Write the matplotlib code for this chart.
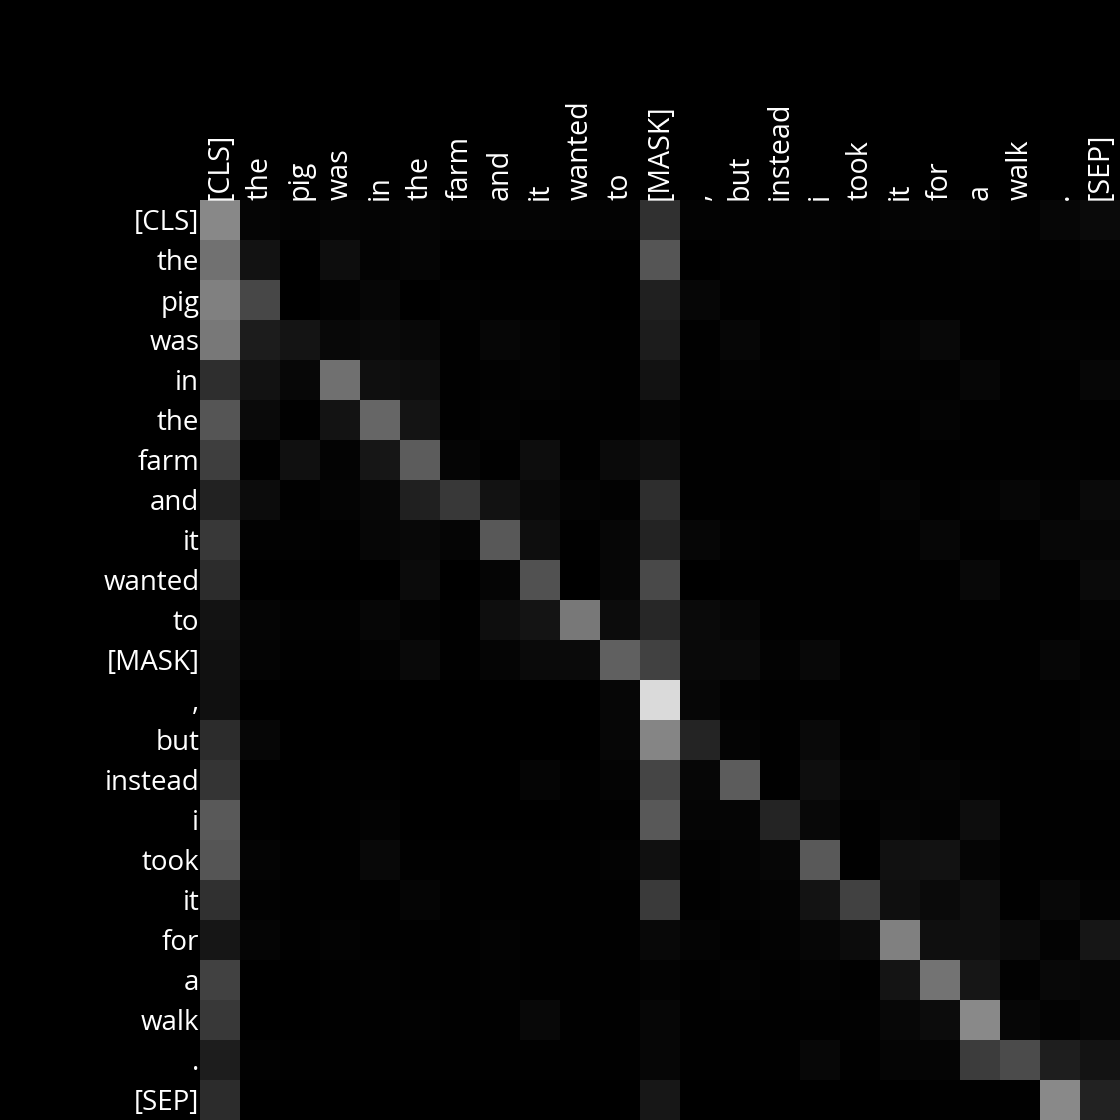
import numpy as np
import matplotlib
matplotlib.use("Agg")
import matplotlib.pyplot as plt

tokens = ["[CLS]", "the", "pig", "was", "in", "the", "farm", "and", "it", "wanted", "to",
          "[MASK]", ",", "but", "instead", "i", "took", "it", "for", "a", "walk", ".", "[SEP]"]

# attention weights (grey level / 255), one row per query token
att_cls     = [136, 5, 3, 5, 4, 5, 3, 4, 4, 3, 3, 48, 3, 2, 2, 3, 2, 4, 5, 4, 2, 6, 10]
att_the     = [114, 18, 0, 13, 3, 5, 0, 0, 0, 0, 0, 85, 0, 2, 2, 2, 1, 1, 1, 2, 1, 1, 4]
att_pig     = [128, 71, 0, 3, 6, 0, 2, 1, 1, 1, 0, 32, 6, 1, 1, 3, 1, 1, 1, 1, 1, 1, 1]
att_was     = [120, 28, 20, 8, 10, 8, 1, 6, 4, 1, 1, 28, 1, 6, 1, 3, 1, 5, 8, 1, 1, 3, 2]
att_in      = [46, 18, 7, 112, 15, 13, 1, 2, 4, 2, 1, 18, 1, 3, 2, 1, 3, 3, 2, 6, 1, 1, 6]
att_the2    = [85, 10, 1, 19, 102, 20, 1, 3, 1, 1, 1, 5, 1, 1, 1, 2, 1, 1, 4, 1, 1, 1, 1]
att_farm    = [62, 1, 16, 3, 22, 92, 5, 1, 13, 1, 10, 16, 1, 1, 1, 1, 3, 1, 1, 1, 1, 2, 1]
att_and     = [34, 12, 1, 4, 7, 33, 57, 18, 9, 4, 2, 46, 1, 1, 1, 1, 1, 5, 1, 3, 6, 3, 10]
att_it      = [56, 2, 2, 1, 6, 8, 5, 88, 14, 1, 6, 35, 6, 2, 1, 1, 1, 2, 6, 1, 1, 7, 6]
att_wanted  = [45, 0, 0, 0, 0, 11, 0, 5, 81, 0, 6, 74, 0, 1, 1, 1, 1, 1, 1, 8, 1, 1, 10]
att_to      = [19, 5, 2, 2, 6, 3, 1, 14, 20, 120, 12, 39, 10, 6, 1, 1, 1, 1, 1, 1, 1, 1, 4]
att_mask    = [17, 4, 1, 1, 3, 9, 1, 5, 10, 10, 96, 66, 9, 10, 3, 8, 1, 1, 1, 1, 1, 6, 2]
att_comma   = [16, 0, 0, 0, 0, 0, 0, 0, 0, 0, 6, 218, 6, 2, 1, 1, 1, 1, 1, 1, 1, 1, 3]
att_but     = [44, 6, 0, 0, 0, 0, 0, 0, 0, 0, 6, 133, 36, 4, 1, 9, 1, 4, 1, 1, 1, 1, 4]
att_instead = [53, 0, 0, 1, 1, 0, 0, 0, 5, 1, 4, 69, 6, 92, 1, 14, 4, 3, 5, 2, 1, 1, 1]
att_i       = [89, 1, 0, 1, 3, 0, 0, 0, 0, 1, 1, 88, 5, 5, 36, 8, 1, 5, 3, 13, 1, 1, 1]
att_took    = [85, 4, 1, 1, 8, 1, 1, 1, 1, 1, 3, 16, 2, 4, 6, 90, 1, 17, 18, 5, 1, 1, 1]
att_it2     = [48, 2, 1, 1, 1, 5, 1, 1, 1, 1, 1, 58, 1, 3, 4, 19, 66, 15, 10, 15, 1, 8, 3]
att_for     = [22, 5, 1, 3, 1, 1, 1, 3, 1, 1, 1, 8, 4, 1, 3, 6, 12, 128, 15, 15, 11, 3, 22]
att_a       = [66, 0, 0, 1, 2, 1, 1, 2, 1, 1, 1, 3, 1, 3, 1, 3, 1, 20, 115, 22, 2, 8, 6]
att_walk    = [56, 0, 0, 1, 1, 2, 1, 1, 8, 1, 1, 6, 1, 1, 1, 1, 2, 7, 12, 137, 6, 3, 6]
att_dot     = [29, 2, 1, 1, 1, 1, 1, 1, 1, 1, 1, 6, 1, 1, 1, 7, 1, 5, 5, 61, 75, 30, 19]
att_sep     = [44, 0, 0, 0, 0, 0, 0, 0, 0, 0, 0, 23, 0, 0, 0, 0, 0, 0, 1, 1, 1, 137, 34]

rows = [att_cls, att_the, att_pig, att_was, att_in, att_the2, att_farm, att_and, att_it,
        att_wanted, att_to, att_mask, att_comma, att_but, att_instead, att_i, att_took,
        att_it2, att_for, att_a, att_walk, att_dot, att_sep]
attn = np.array(rows, dtype=float) / 255.0

plt.rcParams["font.family"] = ["Open Sans", "DejaVu Sans"]

fig = plt.figure(figsize=(11.2, 11.2), dpi=100, facecolor="black")
ax = fig.add_axes([200 / 1120, 0, 920 / 1120, 920 / 1120])
ax.imshow(attn, cmap="gray", vmin=0, vmax=1, aspect="auto", interpolation="nearest")

ax.set_xticks(range(len(tokens)))
ax.set_yticks(range(len(tokens)))
ax.set_xticklabels(tokens, rotation=90, fontsize=20.6, color="white")
ax.set_yticklabels(tokens, fontsize=20, color="white")
ax.xaxis.tick_top()
ax.tick_params(axis="x", length=0, pad=0)
ax.tick_params(axis="y", length=0, pad=0.5)
for s in ax.spines.values():
    s.set_visible(False)

fig.savefig("out.png", dpi=100, facecolor="black")
